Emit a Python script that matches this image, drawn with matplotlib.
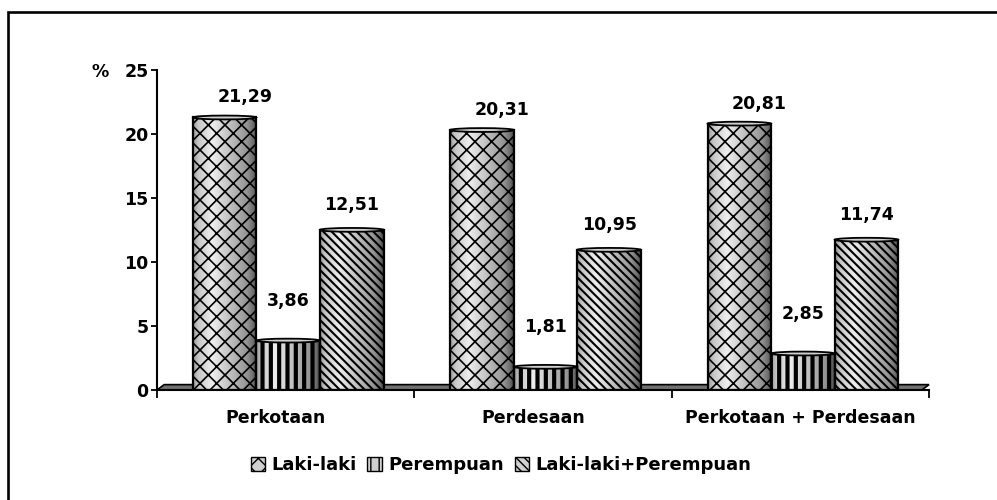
import numpy as np
import matplotlib
matplotlib.use("Agg")
import matplotlib.pyplot as plt
from matplotlib.patches import Polygon, Ellipse, Rectangle, Patch
from matplotlib.transforms import ScaledTranslation

# data
categories = ["Perkotaan", "Perdesaan", "Perkotaan + Perdesaan"]
series_names = ["Laki-laki", "Perempuan", "Laki-laki+Perempuan"]
laki = [21.29, 20.31, 20.81]
perempuan = [3.86, 1.81, 2.85]
total = [12.51, 10.95, 11.74]
yticks = [0, 5, 10, 15, 20, 25]

values = [laki, perempuan, total]
hatches = ["xx", "||", "\\\\\\\\"]
hatch_lw = [1.2, 3.0, 1.5]
label_dx = [20, 0, 0]     # px shift of value labels
label_dy = [20, 40, 25]   # px above bar top

plt.rcParams["font.family"] = "DejaVu Sans"
plt.rcParams["font.weight"] = "bold"

fig = plt.figure(figsize=(9.97, 5.0), dpi=100)
ax = fig.add_axes([157 / 997, 110 / 500, 772 / 997, 320 / 500])

x = np.arange(len(categories))
width = 0.247
prof_s = np.linspace(0, 1, 60)
shade = np.interp(prof_s, [0, 0.08, 0.3, 0.85, 0.95, 1], [0.6, 0.78, 0.93, 0.58, 0.42, 0.28])

for i, (vals, h) in enumerate(zip(values, hatches)):
    xs = x + (i - 1) * width + 0.01
    plt.rcParams["hatch.linewidth"] = hatch_lw[i]
    bars = ax.bar(xs, vals, width, facecolor="none", edgecolor="black",
                  hatch=h, linewidth=1.6, zorder=4)
    for b, v in zip(bars, vals):
        if hasattr(b, "set_hatch_linewidth"):
            b.set_hatch_linewidth(hatch_lw[i])
        x0 = b.get_x()
        im = ax.imshow(shade[np.newaxis, :], cmap="gray", vmin=0, vmax=1,
                       extent=[x0, x0 + width, 0, v], aspect="auto", zorder=3)
        im.set_clip_path(b)
        ax.add_patch(Ellipse((x0 + width / 2, v), width, 0.3, facecolor="#d0d0d0",
                             edgecolor="black", linewidth=1.3, zorder=5))
        ax.annotate(f"{v:.2f}".replace(".", ","), (x0 + width / 2, v),
                    xytext=(label_dx[i] * 0.72, label_dy[i] * 0.72),
                    textcoords="offset points", ha="center", va="center",
                    fontsize=12.5, fontweight="bold", zorder=6)

# floor
dx, dy = 0.028, 0.42
floor = Polygon([(-0.5, 0), (2.5 - dx, 0), (2.5, dy), (-0.5 + dx, dy)],
                closed=True, facecolor="#707070", edgecolor="black",
                linewidth=1.2, zorder=2, clip_on=False)
ax.add_patch(floor)

ax.set_xlim(-0.5, 2.5)
ax.set_ylim(0, 25)
ax.set_yticks(yticks)
ax.set_yticklabels([str(t) for t in yticks], fontsize=12.5, fontweight="bold")
ax.tick_params(axis="y", direction="out", length=4, width=1.3, pad=2)

ax.set_xticks([-0.5, 0.5, 1.5, 2.5])
ax.set_xticklabels([])
ax.tick_params(axis="x", which="major", direction="out", length=5.5, width=1.3)
ax.set_xticks(x, minor=True)
ax.set_xticklabels(categories, minor=True, fontsize=12.5, fontweight="bold")
ax.tick_params(axis="x", which="minor", length=0, pad=14)
shift = ScaledTranslation(-10 / 100, 0, fig.dpi_scale_trans)
for lab in ax.get_xticklabels(minor=True)[:2]:
    lab.set_transform(lab.get_transform() + shift)

for s in ["top", "right"]:
    ax.spines[s].set_visible(False)
for s in ["left", "bottom"]:
    ax.spines[s].set_linewidth(1.5)
    ax.spines[s].set_zorder(7)

fig.text(100 / 997, 1 - 72 / 500, "%", fontsize=12.5, fontweight="bold",
         ha="center", va="center")

# legend
handles = []
for i, h in enumerate(hatches):
    handles.append(Patch(facecolor="#d0d0d0", edgecolor="black", hatch=h, linewidth=1.0))
plt.rcParams["hatch.linewidth"] = 1.0
fig.legend(handles, series_names, loc="center", bbox_to_anchor=(501 / 997, 1 - 465 / 500),
           ncol=3, frameon=False, fontsize=13, handlelength=0.8, handleheight=0.8,
           handletextpad=0.35, columnspacing=0.6, borderpad=0)

# outer frame (left and top edges visible)
fig.patches.append(Rectangle((8 / 997, -0.1), 1.2, 1 - 12 / 500 + 0.1,
                             transform=fig.transFigure, fill=False,
                             edgecolor="black", linewidth=1.9))

fig.savefig("out.png", dpi=100)
